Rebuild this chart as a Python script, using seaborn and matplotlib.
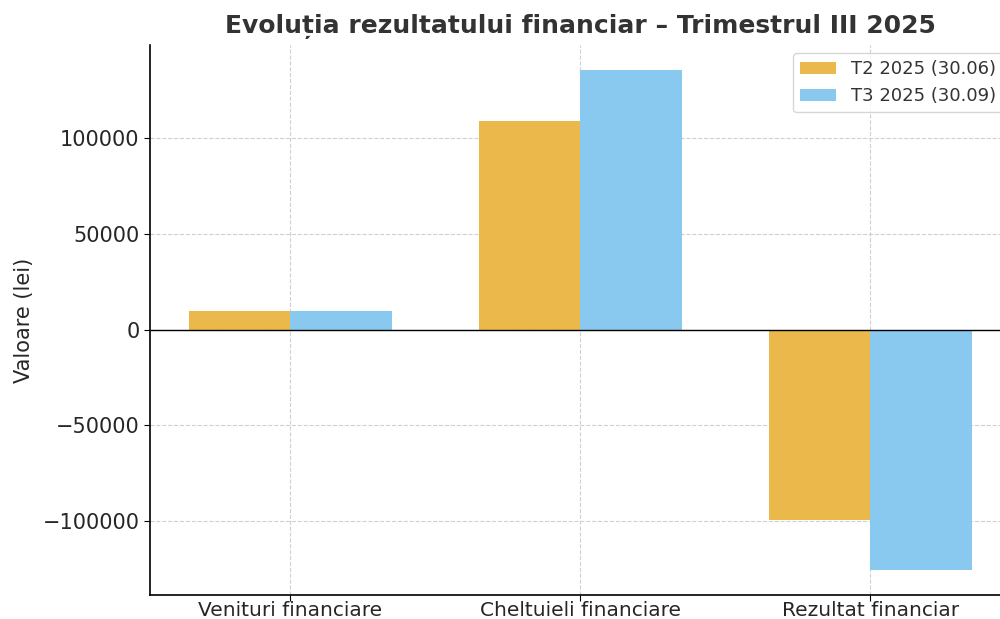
import pandas as pd
import numpy as np
import matplotlib.pyplot as plt
import seaborn as sns

# Data
categorii = ["Venituri financiare", "Cheltuieli financiare", "Rezultat financiar"]
t2_2025 = [9400, 108900, -99500]
t3_2025 = [9900, 135400, -125500]
serii = ["T2 2025 (30.06)", "T3 2025 (30.09)"]

df = pd.DataFrame({
    "Categorie": categorii * 2,
    "Valoare": t2_2025 + t3_2025,
    "Perioada": [serii[0]] * 3 + [serii[1]] * 3,
})

sns.set_style("white")
plt.rcParams["font.family"] = ["DejaVu Sans"]

fig = plt.figure(figsize=(10, 6.19), dpi=100)
ax = fig.add_axes([0.15, 0.039, 0.8613, 0.888])

sns.barplot(data=df, x="Categorie", y="Valoare", hue="Perioada",
            palette=["#EBB94B", "#89C9EF"], width=0.7, gap=0,
            saturation=1, errorbar=None, linewidth=0, ax=ax, zorder=2)

ax.axhline(0, color="black", linewidth=1, zorder=3)
ax.grid(True, linestyle="--", color="#d0d0d0", linewidth=0.8, zorder=0)
ax.set_axisbelow(True)

ax.set_xlim(-0.483, 2.487)
ax.set_ylim(-138545, 148445)
ax.set_yticks([-100000, -50000, 0, 50000, 100000])

ax.set_title("Evoluția rezultatului financiar – Trimestrul III 2025",
             fontsize=18, fontweight="bold", color="#333333", pad=9)
ax.set_xlabel("")
ax.set_ylabel("Valoare (lei)", fontsize=15, color="#262626", labelpad=6)
ax.tick_params(axis="both", labelsize=15, labelcolor="#262626", length=4,
               direction="out", bottom=True, left=True, color="black")
ax.tick_params(axis="x", pad=0.5, labelsize=14.5)

for s in ["top", "right"]:
    ax.spines[s].set_visible(False)
for s in ["left", "bottom"]:
    ax.spines[s].set_color("black")
    ax.spines[s].set_linewidth(1.2)

leg = ax.legend(loc="upper left", bbox_to_anchor=(0.793, 1 - 53 / 619),
                bbox_transform=fig.transFigure, borderaxespad=0,
                fontsize=13, frameon=True, fancybox=True)
leg.get_frame().set_edgecolor("#cccccc")
for t in leg.get_texts():
    t.set_color("#333333")

fig.savefig("out.png", dpi=100)
